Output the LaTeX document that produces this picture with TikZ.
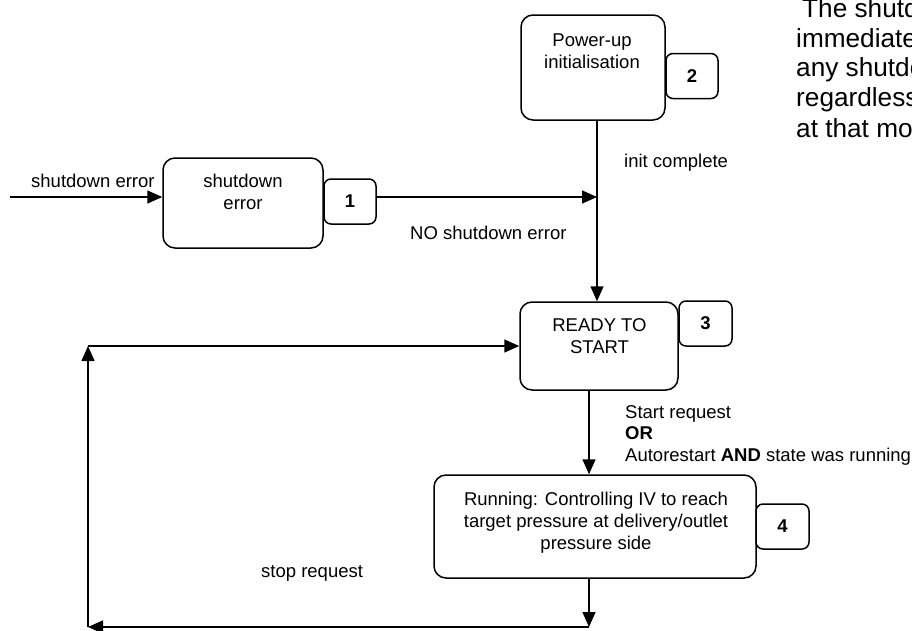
\documentclass[tikz,border=0pt]{standalone}
\usepackage{fontspec}
\setmainfont{Liberation Sans}
\usetikzlibrary{arrows.meta}
\begin{document}
\begin{tikzpicture}[x=1pt,y=-1pt,
  state/.style={draw,line width=1.5pt,rounded corners=12pt,inner sep=0pt},
  tag/.style={draw,line width=1.5pt,rounded corners=7pt,inner sep=0pt,minimum width=52pt,minimum height=45pt,font=\bfseries\fontsize{18.5}{22}\selectfont},
  txt/.style={inner sep=0pt,align=center,font=\fontsize{18.5}{22}\selectfont},
  lbl/.style={inner sep=0pt,anchor=base west,font=\fontsize{18.5}{22}\selectfont},
  note/.style={inner sep=0pt,anchor=base west,font=\fontsize{26.2}{30}\selectfont},
  arr/.style={line width=1.5pt,-{Triangle[length=15pt,width=13pt]}}]
\useasboundingbox (0,0) rectangle (912,630);

% states
\node[state,minimum width=160pt,minimum height=90pt] (E) at (243,203) {};
\node[txt] (Et) at (243,192) {shutdown\\error};
\node[tag] (T1) at (350,201.5) {1};

\node[state,minimum width=144pt,minimum height=105pt] (P) at (593,67.5) {};
\node[txt] (Pt) at (592,51.5) {Power-up\\initialisation};
\node[tag] (T2) at (692,76) {2};

\node[state,minimum width=158pt,minimum height=88pt] (R) at (599,346) {};
\node[txt] (Rt) at (599.5,336.5) {READY TO\\START};
\node[tag,minimum width=53pt] (T3) at (705.5,323.5) {3};

\node[state,minimum width=322pt,minimum height=103pt] (U) at (595,526.5) {};
\node[txt] (Ut) at (596,522.5) {Running: Controlling IV to reach\\target pressure at delivery/outlet\\pressure side};
\node[tag,minimum width=53pt] (T4) at (782.5,526.5) {4};

% coordinates
\coordinate (in) at (10,197);
\coordinate (j1) at (597,197);
\coordinate (c1) at (589,627);
\coordinate (c2) at (88,627);
\coordinate (c3) at (88,346);

% connectors
\draw[arr] (in) -- (in -| E.west);
\draw[arr] (in -| T1.east) -- (j1);
\draw[arr] (P.south -| j1) -- (R.north -| j1);
\draw[arr] (R.south -| c1) -- (U.north -| c1);
\draw[arr] (U.south -| c1) -- (c1);
\draw[arr] (c1) -- (c2);
\draw[arr] (c2) -- (c3);
\draw[arr] (c3) -- (R.west);

% labels
\node[lbl] (l1) at (31,187) {shutdown error};
\node[lbl] (l2) at (410,239) {NO shutdown error};
\node[lbl] (l3) at (624,167) {init complete};
\node[lbl] (l4) at (625,418) {Start request};
\node[lbl] (l5) at (625,439.5) {\bfseries OR};
\node[lbl] (l6) at (625,461) {Autorestart \textbf{AND} state was running};
\node[lbl] (l7) at (261,577) {stop request};

% side note (cut by the picture's edge, as in the reference)
\begin{scope}
\clip (0,0) rectangle (912,630);
\node[note] (n1) at (802,17) {The shutdown};
\node[note] (n2) at (796,47) {immediately};
\node[note] (n3) at (796,76.5) {any shutdown};
\node[note] (n4) at (796,106.5) {regardless};
\node[note] (n5) at (796,137) {at that moment};
\end{scope}
\end{tikzpicture}
\end{document}
